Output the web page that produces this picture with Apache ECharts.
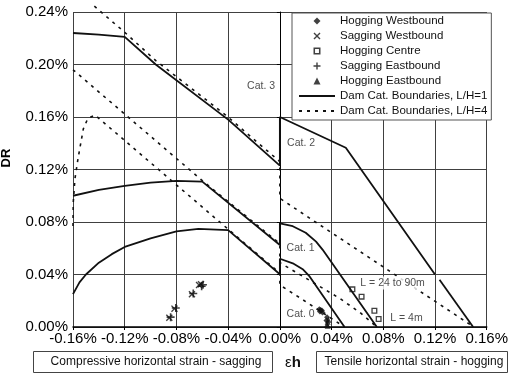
<!DOCTYPE html>
<html>
<head>
<meta charset="utf-8">
<script src="https://cdn.jsdelivr.net/npm/echarts@6/dist/echarts.min.js"></script>
<style>
html,body{margin:0;padding:0;background:#fff;}
#c{width:511px;height:376px;}
</style>
</head>
<body>
<div id="c"></div>
<script>
// ---- tick labels ----
const xTickLabels = ['-0.16%','-0.12%','-0.08%','-0.04%','0.00%','0.04%','0.08%','0.12%','0.16%'];
const yTickLabels = ['0.00%','0.04%','0.08%','0.12%','0.16%','0.20%','0.24%'];

// ---- damage category boundaries, L/H = 1 (solid) ----
const lh1Cat23 = [[-0.16,0.224],[-0.14,0.2228],[-0.12,0.221],[-0.096,0.2],[-0.04,0.158],[0,0.123],[0,0.16],[0.051,0.1366],[0.12,0.04]];
const lh1Cat23b = [[0.1235,0.036],[0.1495,0]];
const lh1Cat12 = [[-0.16,0.100],[-0.14,0.1045],[-0.12,0.1075],[-0.10,0.1100],[-0.08,0.1113],[-0.06,0.1108],[0,0.0625],[0,0.079],[0.01,0.0768],[0.02,0.0718],[0.028,0.065],[0.033,0.059],[0.075,0]];
const lh1Cat01 = [[-0.16,0.025],[-0.155,0.034],[-0.15,0.040],[-0.14,0.049],[-0.13,0.0555],[-0.12,0.061],[-0.10,0.0676],[-0.08,0.0728],[-0.063,0.0747],[-0.04,0.0738],[0,0.0402],[0,0.052],[0.01,0.0485],[0.018,0.0438],[0.023,0.0385],[0.05,0]];

// ---- damage category boundaries, L/H = 4 (dashed) ----
const lh4Cat23 = [[-0.1435,0.2445],[-0.12,0.2245],[-0.096,0.203],[-0.042,0.1615],[0,0.126],[0,0.098],[0.15,0]];
const lh4Cat12 = [[-0.16,0.196],[-0.06,0.1115],[0,0.0635],[0,0.049],[0.046,0.022],[0.062,0.011],[0.075,0]];
const lh4Cat01 = [[-0.16,0.077],[-0.1598,0.095],[-0.1585,0.113],[-0.156,0.129],[-0.152,0.151],[-0.1485,0.159],[-0.143,0.1615],[-0.04,0.0745],[0,0.041],[0,0.032],[0.018,0.0206],[0.05,0]];

// ---- measured points ----
const hoggingWest = [[0.0305,0.0135],[0.031,0.0118],[0.0325,0.0125],[0.033,0.011],[0.0315,0.013],[0.0365,0.0075],[0.036,0.005]];
const saggingWest = [[-0.0855,0.007],[-0.0815,0.014],[-0.068,0.025],[-0.0625,0.032],[-0.061,0.0325]];
const hoggingCentre = [[0.0561,0.0287],[0.0632,0.0231],[0.0731,0.0124],[0.0764,0.0061]];
const saggingEast = [[-0.0845,0.0075],[-0.0805,0.0145],[-0.067,0.0255],[-0.0605,0.031],[-0.0595,0.0322]];
const hoggingEast = [[0.037,0.004],[0.0365,0.002],[0.0375,0.0055],[0.037,0.001]];

// ---- annotations ----
const annoTexts = ['Cat. 3','Cat. 2','Cat. 1','Cat. 0','L = 24 to 90m','L = 4m'];
const annoCoords = [[-0.0145,0.1836],[0.0164,0.140],[0.016,0.0602],[0.016,0.0099],[0.0872,0.0335],[0.0979,0.0069]];

const FONT = '"Liberation Sans", Arial, Helvetica, sans-serif';
const INK = '#111';
const L1 = 'Dam Cat. Boundaries, L/H=1';
const L4 = 'Dam Cat. Boundaries, L/H=4';
const plusPath = 'path://M4,0H6V4H10V6H6V10H4V6H0V4H4Z';
const crossPath = 'path://M1.4,0L5,3.6L8.6,0L10,1.4L6.4,5L10,8.6L8.6,10L5,6.4L1.4,10L0,8.6L3.6,5L0,1.4Z';
const diamondPath = 'path://M5,0L10,5L5,10L0,5Z';
const trianglePath = 'path://M5,0L10,10L0,10Z';
const openSquarePath = 'path://M0,0H10V10H0Z M2.2,2.2V7.8H7.8V2.2Z';

function solid(d){return {name:L1,type:'line',data:d,symbol:'none',z:3,lineStyle:{color:INK,width:1.8,type:'solid'},itemStyle:{color:INK}};}
function dashed(d){return {name:L4,type:'line',data:d,symbol:'none',z:3,clip:false,lineStyle:{color:INK,width:1.6,type:[3,5]},itemStyle:{color:INK}};}
const hiddenDot = {color:'rgba(0,0,0,0)',borderWidth:0,opacity:0};

const chart = echarts.init(document.getElementById('c'), null, {renderer:'canvas'});
const annoData = annoCoords.map((c,i)=>i===4?{value:c,label:{backgroundColor:'#fff',padding:[1,1]}}:{value:c});
chart.setOption({
  animation:false,
  backgroundColor:'#fff',
  textStyle:{fontFamily:FONT},
  grid:{left:73,right:18,top:12,bottom:49,containLabel:false},
  xAxis:{type:'value',min:-0.16,max:0.16,interval:0.04,
    axisLine:{show:true,onZero:false,lineStyle:{color:'#000',width:1.5}},
    axisTick:{show:true,length:3,lineStyle:{color:'#000'}},
    splitLine:{show:true,lineStyle:{color:'#404040',width:1}},
    axisLabel:{margin:4,color:'#000',fontSize:15,fontFamily:FONT,
      formatter:v=>xTickLabels[Math.round((v+0.16)/0.04)]}},
  yAxis:{type:'value',min:0,max:0.24,interval:0.04,
    axisLine:{show:true,lineStyle:{color:'#000',width:1}},
    axisTick:{show:true,length:3,lineStyle:{color:'#000'}},
    splitLine:{show:true,lineStyle:{color:'#404040',width:1}},
    axisLabel:{margin:5,color:'#000',fontSize:15,fontFamily:FONT,
      formatter:v=>yTickLabels[Math.round(v/0.04)]}},
  legend:{orient:'vertical',left:292,top:13,padding:[1,4,2,6],itemWidth:36,itemHeight:7,itemGap:1,
    backgroundColor:'#fff',borderColor:'#555',borderWidth:1,symbolKeepAspect:true,
    textStyle:{fontSize:11.5,lineHeight:14,color:'#111',fontFamily:FONT},
    data:[
      {name:'Hogging Westbound'},
      {name:'Sagging Westbound'},
      {name:'Hogging Centre'},
      {name:'Sagging Eastbound'},
      {name:'Hogging Eastbound'},
      {name:L1,itemStyle:hiddenDot},
      {name:L4,itemStyle:hiddenDot}
    ]},
  graphic:[
    {type:'text',x:6,y:158,rotation:Math.PI/2,style:{text:'DR',font:'bold 13px '+FONT,fill:'#000',align:'center',verticalAlign:'middle'}},
    {type:'rect',shape:{x:33.5,y:351.5,width:239,height:21},style:{fill:'#fff',stroke:'#444',lineWidth:1}},
    {type:'text',x:156,y:362,style:{text:'Compressive horizontal strain - sagging',font:'12px '+FONT,fill:'#111',align:'center',verticalAlign:'middle'}},
    {type:'text',x:293,y:363,style:{text:'{e|ε}{h|h}',align:'center',verticalAlign:'middle',
      rich:{e:{fontSize:15,fontFamily:FONT,fill:'#111'},h:{fontSize:15,fontWeight:'bold',fontFamily:FONT,fill:'#111'}}}},
    {type:'rect',shape:{x:316.5,y:351.5,width:191,height:21},style:{fill:'#fff',stroke:'#444',lineWidth:1}},
    {type:'text',x:414,y:362,style:{text:'Tensile horizontal strain - hogging',font:'12px '+FONT,fill:'#111',align:'center',verticalAlign:'middle'}}
  ],
  series:[
    solid(lh1Cat23), solid(lh1Cat23b), solid(lh1Cat12), solid(lh1Cat01),
    dashed(lh4Cat23), dashed(lh4Cat12), dashed(lh4Cat01),
    {name:'Hogging Westbound',type:'scatter',data:hoggingWest,symbol:diamondPath,symbolSize:6,symbolKeepAspect:true,z:5,itemStyle:{color:INK}},
    {name:'Sagging Westbound',type:'scatter',data:saggingWest,symbol:crossPath,symbolSize:7,symbolKeepAspect:true,z:5,itemStyle:{color:INK}},
    {name:'Hogging Centre',type:'scatter',data:hoggingCentre,symbol:openSquarePath,symbolSize:6,symbolKeepAspect:true,z:5,itemStyle:{color:INK}},
    {name:'Sagging Eastbound',type:'scatter',data:saggingEast,symbol:plusPath,symbolSize:8,symbolKeepAspect:true,z:5,itemStyle:{color:INK}},
    {name:'Hogging Eastbound',type:'scatter',data:hoggingEast,symbol:trianglePath,symbolSize:6,symbolKeepAspect:true,z:5,itemStyle:{color:INK}},
    {name:'annotations',type:'scatter',data:annoData,symbolSize:0,z:6,silent:true,
      label:{show:true,position:'inside',fontSize:10.5,fontFamily:FONT,color:'#222',
        formatter:p=>annoTexts[p.dataIndex]},
      labelLayout:{hideOverlap:false},
      emphasis:{disabled:true}}
  ]
});
</script>
</body>
</html>
